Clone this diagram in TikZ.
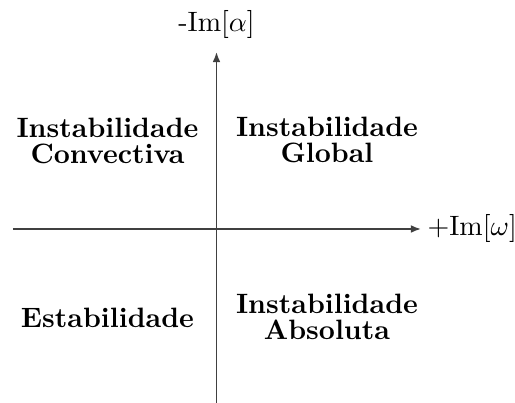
\documentclass[tikz,border=0pt]{standalone}
\usetikzlibrary{arrows.meta}
\begin{document}
\begin{tikzpicture}[x=0.357pt, y=-0.357pt,
  region/.style={font={\bfseries\fontsize{10}{9.3}\selectfont}, align=center, inner sep=0pt},
  axis/.style={-{Latex[length=3.6pt,width=2.8pt]}, line width=0.6pt, black!75},
  axislbl/.style={inner sep=0pt}]
\useasboundingbox (0,0) rectangle (515,403);
% axes
\coordinate (xs) at (13,229);
\coordinate (xe) at (421,229);
\coordinate (ys) at (216.5,403);
\coordinate (ye) at (216.5,52);
\draw[axis] (xs) -- (xe);
\draw[axis] (ys) -- (ye);
\node[axislbl, anchor=west] (wlbl) at (427,229) {$+\mathrm{Im}[\omega]$};
\node[axislbl] (albl) at (216.5,25) {-Im$[\alpha]$};
% regions
\node[region] (conv) at (107.5,141) {Instabilidade\\Convectiva};
\node[region] (glob) at (327,140) {Instabilidade\\Global};
\node[region] (estab) at (107.5,318) {Estabilidade};
\node[region] (absol) at (327,317) {Instabilidade\\Absoluta};
\end{tikzpicture}
\end{document}
